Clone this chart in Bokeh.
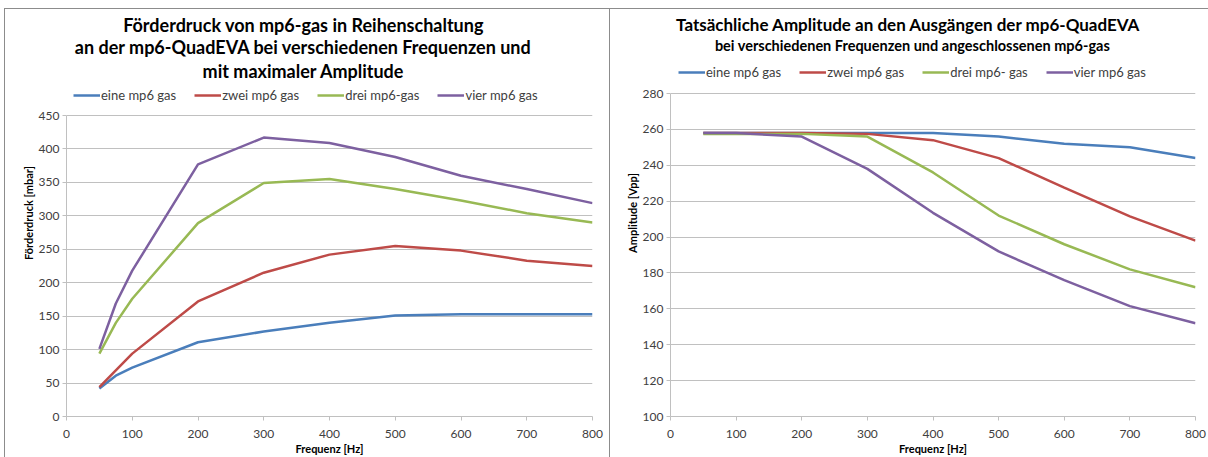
from bokeh.plotting import figure
from bokeh.models import Legend, LegendItem, Spacer, FixedTicker, Range1d, Label
from bokeh.layouts import row, column
from bokeh.embed import file_html
from bokeh.resources import INLINE

# ---- data: left chart (Förderdruck) ----
freq_p = [50, 75, 100, 200, 300, 400, 500, 600, 700, 800]
p_eine = [42, 61, 73, 111, 127, 140, 151, 153, 153, 153]
p_zwei = [44, 69, 94, 172, 215, 242, 255, 248, 233, 225]
p_drei = [94, 140, 176, 289, 349, 355, 340, 323, 304, 290]
p_vier = [101, 169, 218, 377, 417, 409, 388, 360, 340, 319]

# ---- data: right chart (Amplitude) ----
freq_a = [50, 100, 200, 300, 400, 500, 600, 700, 800]
a_eine = [258, 258, 258, 258, 258, 256, 252, 250, 244]
a_zwei = [258, 258, 258, 257.5, 254, 244, 227.5, 211.5, 198]
a_drei = [257.5, 257.5, 257.5, 256, 236, 212, 196, 182, 172]
a_vier = [258, 258, 256, 238, 213.5, 192, 176, 161.5, 152]

series_names = ["eine mp6 gas", "zwei mp6 gas", "drei mp6-gas", "vier mp6 gas"]
series_names_r = ["eine mp6 gas", "zwei mp6 gas", "drei mp6- gas", "vier mp6 gas"]
title_left = ["Förderdruck von mp6-gas in Reihenschaltung",
              "an der mp6-QuadEVA bei verschiedenen Frequenzen und",
              "mit maximaler Amplitude"]
title_right = "Tatsächliche Amplitude an den Ausgängen der mp6-QuadEVA"
subtitle_right = "bei verschiedenen Frequenzen und angeschlossenen mp6-gas"
x_ticks = [0, 100, 200, 300, 400, 500, 600, 700, 800]
y_ticks_p = [0, 50, 100, 150, 200, 250, 300, 350, 400, 450]
y_ticks_a = [100, 120, 140, 160, 180, 200, 220, 240, 260, 280]

colors = ["#4A7EBB", "#BE4B48", "#98B954", "#7D60A0"]
FONT = "Lato"
GRID = "#c0c0c0"
BORDER = "#8c8c8c"

FIG_H = 448          # figure height (page y 9 .. 457)
BOTTOM = 41          # space for the x axis
FRAME_H = FIG_H - BOTTOM


def top_value(lo, hi, top_px):
    # value at the top of the frame so that `hi` sits top_px below the frame top
    span_px = FRAME_H - top_px
    return hi + top_px * (hi - lo) / span_px


def style(p, xlabel, ylabel, yticks, bounds):
    p.xaxis.ticker = FixedTicker(ticks=x_ticks)
    p.yaxis.ticker = FixedTicker(ticks=yticks)
    p.yaxis.bounds = bounds
    for ax in (p.xaxis[0], p.yaxis[0]):
        ax.axis_line_color = GRID
        ax.major_tick_line_color = GRID
        ax.major_tick_out = 4
        ax.major_tick_in = 0
        ax.minor_tick_line_color = None
        ax.major_label_text_font = FONT
        ax.major_label_text_font_size = "12px"
        ax.major_label_text_color = "#404040"
        ax.axis_label_text_font = FONT
        ax.axis_label_text_font_size = "11px"
        ax.axis_label_text_font_style = "bold"
        ax.axis_label_text_color = "#000000"
        ax.axis_label_standoff = 1
    p.xaxis.major_label_standoff = 9
    p.yaxis.major_label_standoff = 3
    p.xaxis.axis_label = xlabel
    p.yaxis.axis_label = ylabel
    p.xgrid.grid_line_color = None
    p.ygrid.grid_line_color = GRID
    p.ygrid.grid_line_width = 1
    p.outline_line_color = None
    p.background_fill_color = "white"
    p.border_fill_color = "white"


def make_legend(names, renderers, vx, vy):
    return Legend(items=[LegendItem(label=n, renderers=[r]) for n, r in zip(names, renderers)],
                  orientation="horizontal", location=(vx, vy), padding=2, margin=0,
                  spacing=18, glyph_width=27, glyph_height=16, label_height=16,
                  label_standoff=1, label_text_font=FONT, label_text_font_size="13px",
                  label_text_color="#404040", border_line_color=None,
                  background_fill_alpha=0)


def make_label(text, x, y_from_bottom, size):
    return Label(x=x, y=y_from_bottom, x_units="screen", y_units="screen", text=text,
                 text_align="center", text_baseline="middle", text_font=FONT,
                 text_font_size=size, text_font_style="bold", text_color="#000000")


# ---------------- left panel (frame spans whole height; page y0 = 9) ----------------
ytop_l = top_value(0, 450, 115 - 9)
pl = figure(width=604, height=FIG_H, output_backend="svg", toolbar_location=None, title=None,
            x_range=Range1d(0, 800), y_range=Range1d(0, ytop_l),
            min_border_left=61, min_border_right=17, min_border_top=0, min_border_bottom=BOTTOM)
style(pl, "Frequenz [Hz]", "Förderdruck [mbar]", y_ticks_p, (0, 450))
rl = [pl.line(freq_p, ys, line_color=c, line_width=2.5)
      for ys, c in zip([p_eine, p_zwei, p_drei, p_vier], colors)]
pl.add_layout(make_legend(series_names, rl, 7, 416 - 103), "center")
for txt, yc in zip(title_left, [24, 46, 70]):
    pl.add_layout(make_label(txt, 237, 416 - yc, "18px"))

# ---------------- right panel ----------------
ytop_r = top_value(100, 280, 93 - 9)
pr = figure(width=598, height=FIG_H, output_backend="svg", toolbar_location=None, title=None,
            x_range=Range1d(0, 800), y_range=Range1d(100, ytop_r),
            min_border_left=60, min_border_right=13, min_border_top=0, min_border_bottom=BOTTOM)
style(pr, "Frequenz [Hz]", "Amplitude [Vpp]", y_ticks_a, (100, 280))
rr = [pr.line(freq_a, ys, line_color=c, line_width=2.5)
      for ys, c in zip([a_eine, a_zwei, a_drei, a_vier], colors)]
pr.add_layout(make_legend(series_names_r, rr, 8, 416 - 80), "center")
pr.add_layout(make_label(title_right, 238, 416 - 24, "17px"))
pr.add_layout(make_label(subtitle_right, 242, 416 - 45, "14.5px"))

# ---------------- frame lines ----------------
top_gap = Spacer(width=1208, height=8)
top_line = row(Spacer(width=4, height=1), Spacer(width=1204, height=1, styles={"background-color": BORDER}))
left_line = Spacer(width=1, height=FIG_H, styles={"background-color": BORDER})
sep = Spacer(width=1, height=FIG_H, styles={"background-color": BORDER})
body = row(Spacer(width=4, height=FIG_H), left_line, pl, sep, pr)
layout = column(top_gap, top_line, body)

open("out.html", "w").write(file_html(layout, INLINE))
